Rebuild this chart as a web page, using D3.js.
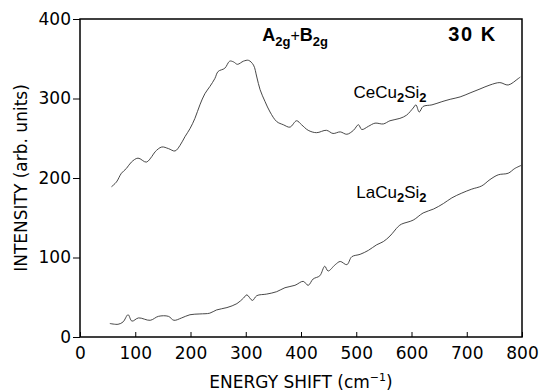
<!DOCTYPE html>
<meta charset="utf-8">
<style>
  body { margin: 0; background: #fff; }
  .axis text { font-family: "DejaVu Sans", sans-serif; font-size: 17px; fill: #000; }
  .axis path, .axis line { stroke: #000; }
  .trace { fill: none; stroke: #333; stroke-width: 0.9px; }
</style>
<svg width="539" height="392"></svg>
<script src="https://cdn.jsdelivr.net/npm/d3@7"></script>
<script>

// spectra (energy shift in cm-1, intensity in arb. units)
var ceShift = [57, 66, 75, 84, 93, 105, 120, 130, 136, 148, 160, 172, 181, 190, 199, 208, 217, 226, 235, 244,
               250, 262, 271, 278, 285, 296, 305, 314, 320, 326, 335, 344, 356, 368, 380, 392, 401, 413, 428, 446,
               458, 471, 483, 495, 504, 510, 522, 534, 549, 561, 579, 591, 603, 608, 614, 621, 637, 655, 670, 688,
               706, 724, 742, 760, 775, 793, 797];
var ceInt   = [189, 195, 206, 212, 220, 225, 220, 227, 233, 239, 237, 234, 241, 252, 262, 275, 292, 306, 315, 325,
               334, 338, 347, 346, 343, 347, 348, 342, 327, 311, 296, 283, 271, 267, 264, 272, 267, 260, 257, 260,
               256, 258, 255, 260, 267, 261, 265, 269, 268, 272, 275, 279, 288, 292, 283, 290, 292, 296, 299, 302,
               307, 312, 317, 320, 317, 325, 327];

var laShift = [54, 69, 78, 87, 94, 106, 127, 142, 160, 170, 184, 199, 217, 235, 247, 266, 284, 296, 302, 312,
               320, 338, 356, 371, 389, 404, 413, 422, 434, 443, 449, 462, 471, 483, 492, 507, 522, 537, 549, 561,
               576, 582, 603, 621, 640, 658, 673, 691, 709, 727, 742, 757, 775, 787, 799];
var laInt   = [17, 16, 19, 28, 20, 24, 21, 26, 26, 21, 24, 28, 29, 30, 34, 37, 42, 49, 53, 46,
               52, 54, 57, 62, 65, 70, 65, 73, 77, 89, 83, 91, 95, 91, 101, 104, 109, 116, 120, 127,
               139, 142, 147, 156, 161, 168, 175, 181, 186, 190, 198, 204, 206, 212, 216];

var xTicks = [0, 100, 200, 300, 400, 500, 600, 700, 800];
var yTicks = [0, 100, 200, 300, 400];

var svg = d3.select("svg"),
    margin = {top: 19, right: 17, bottom: 55, left: 80},
    width = +svg.attr("width") - margin.left - margin.right,
    height = +svg.attr("height") - margin.top - margin.bottom,
    g = svg.append("g").attr("transform", "translate(" + margin.left + "," + margin.top + ")");

var x = d3.scaleLinear().domain([0, 800]).range([0, width]);
var y = d3.scaleLinear().domain([0, 400]).range([height, 0]);

g.append("g")
    .attr("class", "axis")
    .attr("transform", "translate(0," + height + ")")
    .call(d3.axisBottom(x).tickValues(xTicks).tickSizeInner(-5).tickSizeOuter(0).tickPadding(10))
    .call(function(a) { a.select(".domain").remove(); });

g.append("g")
    .attr("class", "axis")
    .call(d3.axisLeft(y).tickValues(yTicks).tickSizeInner(7).tickSizeOuter(0).tickPadding(2))
    .call(function(a) { a.select(".domain").remove(); });

// frame
g.append("rect")
    .attr("width", width)
    .attr("height", height)
    .attr("fill", "none")
    .attr("stroke", "#000")
    .attr("stroke-width", 1.5);

var line = d3.line()
    .x(function(d) { return x(d[0]); })
    .y(function(d) { return y(d[1]); })
    .curve(d3.curveCatmullRom);

g.append("path")
    .datum(d3.zip(ceShift, ceInt))
    .attr("class", "trace")
    .attr("d", line);

g.append("path")
    .datum(d3.zip(laShift, laInt))
    .attr("class", "trace")
    .attr("d", line);

// labels
var lbl = g.append("g").attr("font-family", "Liberation Sans, Arial, sans-serif");

var t1 = lbl.append("text").attr("x", x(330)).attr("y", 22)
    .attr("font-size", 18).attr("font-weight", "bold");
t1.append("tspan").text("A");
t1.append("tspan").attr("font-size", 13).attr("dy", 5).text("2g");
t1.append("tspan").attr("font-size", 16).attr("font-weight", "normal").attr("dy", -5).text("+");
t1.append("tspan").text("B");
t1.append("tspan").attr("font-size", 13).attr("dy", 5).text("2g");

lbl.append("text").attr("x", x(754)).attr("y", 22)
    .attr("text-anchor", "end")
    .attr("font-size", 20).attr("font-weight", "bold")
    .attr("letter-spacing", 1.5)
    .text("30 K");

function compound(xv, yv, el) {
  var t = lbl.append("text").attr("x", x(xv)).attr("y", y(yv)).attr("font-size", 17);
  t.append("tspan").text(el + "Cu");
  t.append("tspan").attr("font-size", 13).attr("font-weight", "bold").attr("dy", 4).text("2");
  t.append("tspan").attr("dy", -4).text("Si");
  t.append("tspan").attr("font-size", 13).attr("font-weight", "bold").attr("dy", 4).text("2");
}
compound(495, 301, "Ce");
compound(500, 175, "La");

svg.append("text")
    .attr("transform", "translate(27," + (margin.top + height / 2) + ") rotate(-90)")
    .attr("text-anchor", "middle")
    .attr("font-family", "DejaVu Sans, sans-serif")
    .attr("font-size", 17)
    .text("INTENSITY (arb. units)");

var xt = svg.append("text")
    .attr("x", margin.left + width / 2)
    .attr("y", 388)
    .attr("text-anchor", "middle")
    .attr("font-family", "DejaVu Sans, sans-serif")
    .attr("font-size", 17);
xt.append("tspan").text("ENERGY SHIFT (cm");
xt.append("tspan").attr("font-size", 11).attr("dy", -7).text("−1");
xt.append("tspan").attr("dy", 7).text(")");

</script>
